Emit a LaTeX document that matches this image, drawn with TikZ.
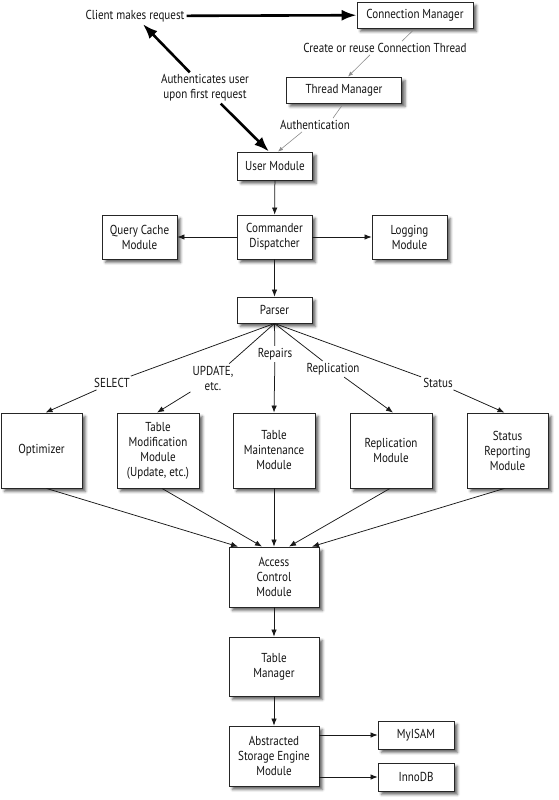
\documentclass[tikz,border=0pt]{standalone}
\usepackage{fontspec}
\setmainfont{PT Sans}[FakeStretch=0.85]
\usetikzlibrary{arrows.meta,shadows.blur}
\begin{document}
\begin{tikzpicture}[x=1pt,y=-1pt,
  every node/.style={font=\fontsize{13}{15}\selectfont, text=black!92},
  box/.style={draw=black!85, line width=0.85pt, fill=white, align=center, inner sep=0pt,
    blur shadow={shadow xshift=3.5pt, shadow yshift=-3.5pt, shadow blur radius=2.5pt, shadow opacity=60}},
  lbl/.style={align=center, inner sep=2pt},
  arr/.style={-{Latex[length=7pt,width=5.5pt]}, line width=0.75pt, draw=black!90},
  plainln/.style={line width=0.75pt, draw=black!90},
  garr/.style={-{Latex[length=5pt,width=4pt]}, line width=0.6pt, draw=black!45},
  gline/.style={line width=0.6pt, draw=black!45},
  bigarr/.style={-{Latex[length=15pt,width=11pt]}, line width=2.6pt, draw=black},
]
\useasboundingbox (0,0) rectangle (559,800);

% top
\node[lbl] (client) at (135,16) {Client makes request};
\node[box, minimum width=116pt, minimum height=26pt] (conn) at (415,15) {Connection Manager};
\node[lbl] (create) at (385,48) {Create or reuse Connection Thread};
\node[box, minimum width=115pt, minimum height=26pt] (thread) at (344,90) {Thread Manager};
\node[lbl] (authn) at (315,125) {Authentication};
\node[lbl] (authu) at (205,88) {Authenticates user\\upon first request};
\node[box, minimum width=75pt, minimum height=28pt] (user) at (275,166) {User Module};

\draw[bigarr] (client) -- (conn);
\draw[bigarr] (authu) -- (client);
\draw[bigarr] (authu) -- ([xshift=-6pt]user.north);
\draw[gline] ([xshift=-2pt,yshift=-2pt]conn.south) -- ([xshift=17pt]create.north);
\draw[garr] ([xshift=-15pt]create.south) -- ([xshift=4pt]thread.north);
\draw[gline] ([xshift=-2pt,yshift=-2pt]thread.south) -- ([xshift=18pt]authn.north);
\draw[garr] ([xshift=-13pt]authn.south) -- ([xshift=3pt]user.north);

% middle
\node[box, minimum width=75pt, minimum height=44pt] (cmd) at (274.5,237) {Commander\\Dispatcher};
\node[box, minimum width=75pt, minimum height=44pt] (qc) at (139.5,237) {Query Cache\\Module};
\node[box, minimum width=75pt, minimum height=44pt] (log) at (409.5,237) {Logging\\Module};
\node[box, minimum width=75pt, minimum height=26pt] (parser) at (274.5,310) {Parser};

\draw[arr] (user) -- (cmd);
\draw[arr] (cmd) -- (qc);
\draw[arr] (cmd) -- (log);
\draw[arr] (cmd) -- (parser);

% fan labels
\node[lbl] (sel) at (112,383) {SELECT};
\node[lbl] (upd) at (213,378) {UPDATE,\\etc.};
\node[lbl] (rep) at (275,354) {Repairs};
\node[lbl] (repl) at (333,369) {Replication};
\node[lbl] (stat) at (438,383) {Status};

% row of modules
\node[box, minimum width=81pt, minimum height=75pt] (opt) at (41.5,450.5) {Optimizer};
\node[box, minimum width=82pt, minimum height=75pt] (tmod) at (158,450.5) {Table\\Modification\\Module\\(Update, etc.)};
\node[box, minimum width=82pt, minimum height=75pt] (tmaint) at (274,450.5) {Table\\Maintenance\\Module};
\node[box, minimum width=82pt, minimum height=75pt] (rmod) at (391,450.5) {Replication\\Module};
\node[box, minimum width=81pt, minimum height=75pt] (smod) at (507.5,450.5) {Status\\Reporting\\Module};

\draw[plainln] (parser.south) -- (sel);
\draw[plainln] (parser.south) -- (upd);
\draw[plainln] (parser.south) -- (rep);
\draw[plainln] (parser.south) -- (repl);
\draw[plainln] (parser.south) -- (stat);
\draw[arr] (sel) -- ([xshift=4pt]opt.north);
\draw[arr] (upd) -- ([xshift=-1pt]tmod.north);
\draw[arr] (rep) -- (tmaint.north);
\draw[arr] (repl) -- ([xshift=2pt]rmod.north);
\draw[arr] (stat) -- ([xshift=-3pt]smod.north);

% lower column
\node[box, minimum width=90pt, minimum height=60pt] (acc) at (274,577) {Access\\Control\\Module};
\node[box, minimum width=90pt, minimum height=59pt] (tmgr) at (274,666.5) {Table\\Manager};
\node[box, minimum width=90pt, minimum height=60pt] (ase) at (274,756) {Abstracted\\Storage Engine\\Module};
\node[box, minimum width=76pt, minimum height=28pt] (myisam) at (416,735) {MyISAM};
\node[box, minimum width=76pt, minimum height=28pt] (innodb) at (416,777) {InnoDB};

\draw[arr] ([xshift=5pt]opt.south) -- ([xshift=-36pt]acc.north);
\draw[arr] ([xshift=4pt]tmod.south) -- ([xshift=-12pt]acc.north);
\draw[arr] (tmaint.south) -- (acc.north);
\draw[arr] ([xshift=-1pt]rmod.south) -- ([xshift=15pt]acc.north);
\draw[arr] ([xshift=-3pt]smod.south) -- ([xshift=38pt]acc.north);
\draw[arr] (acc) -- (tmgr);
\draw[arr] (tmgr) -- (ase);
\draw[arr] (ase.east |- myisam) -- (myisam);
\draw[arr] (ase.east |- innodb) -- (innodb);
\end{tikzpicture}
\end{document}
